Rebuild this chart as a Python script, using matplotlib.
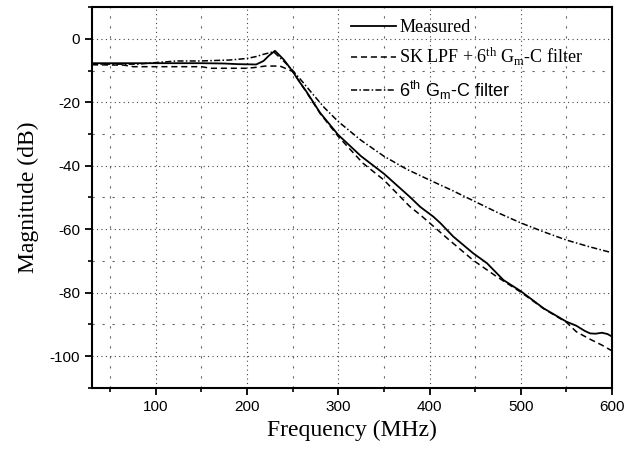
import matplotlib
matplotlib.use("Agg")
import matplotlib.pyplot as plt
from matplotlib.ticker import MultipleLocator

# measured response
f_meas = [30, 60, 100, 150, 175, 190, 210, 218, 224, 230.6, 240, 250, 258, 265, 280,
          300, 325, 350, 378, 390, 404, 412, 426, 448, 463, 481, 500, 525, 550, 561,
          570, 576, 582, 589, 595, 600]
db_meas = [-7.7, -7.7, -7.7, -7.7, -7.8, -8.0, -8.1, -7.0, -5.3, -3.8, -6.5, -10.3, -13.8,
           -16.6, -23.3, -30.3, -37.0, -42.5, -49.7, -53.0, -56.0, -58.1, -62.3, -67.6,
           -70.7, -76.0, -79.5, -84.9, -89.1, -90.4, -92.0, -92.8, -92.9, -92.6, -93.0, -93.8]

# SK LPF + 6th Gm-C filter (simulated)
f_sk = [30, 65, 75, 150, 160, 200, 210, 220, 236, 250, 265, 280, 300, 327, 350, 378.6,
        390, 400, 420, 448, 473.5, 500, 525, 550, 561, 575, 589, 600]
db_sk = [-8.2, -8.3, -8.8, -8.8, -9.3, -9.3, -9.0, -8.6, -8.6, -10.3, -16.8, -23.5, -30.8,
         -39.2, -44.5, -52.9, -55.5, -58.0, -63.0, -69.8, -74.9, -79.8, -85.0, -89.3,
         -92.3, -94.5, -96.5, -98.3]

# 6th Gm-C filter alone (simulated)
f_gm = [30, 80, 100, 123, 148, 181, 200, 210, 218, 229, 240, 250, 260, 272.5, 285, 300,
        325, 350, 375, 400, 425, 450, 475, 500, 525, 550, 575, 600]
db_gm = [-8.0, -8.0, -7.5, -7.0, -7.0, -6.7, -6.2, -5.6, -4.9, -4.1, -7.0, -10.0, -13.3,
         -17.6, -21.8, -26.1, -32.0, -37.0, -41.1, -44.5, -47.8, -51.3, -54.8, -58.0,
         -60.8, -63.4, -65.5, -67.4]

plt.rcParams['axes.unicode_minus'] = False
plt.rcParams['mathtext.default'] = 'regular'

fig = plt.figure(figsize=(6.38, 4.49), dpi=100)
ax = fig.add_axes([0.1442, 0.1359, 0.815, 0.8485])

ax.plot(f_meas, db_meas, color='black', lw=1.3, label='Measured')
ax.plot(f_sk, db_sk, color='black', lw=1.1, linestyle=(0, (4, 2.5)),
        label='SK LPF + 6$^{th}$ G$_{m}$-C filter')
ax.plot(f_gm, db_gm, color='black', lw=1.1, linestyle=(0, (4, 1.5, 1, 1.5)),
        label='6$^{th}$ G$_{m}$-C filter')

ax.set_xlim(30, 600)
ax.set_ylim(-110, 10)
ax.xaxis.set_major_locator(MultipleLocator(100))
ax.xaxis.set_minor_locator(MultipleLocator(50))
ax.yaxis.set_major_locator(MultipleLocator(20))
ax.yaxis.set_minor_locator(MultipleLocator(10))

ax.grid(which='major', color='#444444', lw=0.8, linestyle=(0, (1, 3)))
ax.grid(which='minor', color='#666666', lw=0.8, linestyle=(0, (2, 7)))

for s in ax.spines.values():
    s.set_linewidth(1.5)
ax.tick_params(which='major', direction='out', length=5, width=1.3,
               labelsize=11)
ax.tick_params(which='minor', direction='out', length=3, width=1.2)
for lab in ax.get_xticklabels() + ax.get_yticklabels():
    lab.set_fontfamily('Liberation Sans')

ax.set_xlabel('Frequency (MHz)', fontfamily='Liberation Serif', fontsize=17, labelpad=4)
ax.set_ylabel('Magnitude (dB)', fontfamily='Liberation Serif', fontsize=17, labelpad=8)

leg = ax.legend(loc='upper left', bbox_to_anchor=(0.466, 1.01), frameon=False,
                prop={'family': 'Liberation Serif', 'size': 13},
                handlelength=2.5, handletextpad=0.2, labelspacing=0.55)
leg.get_texts()[2].set_fontfamily('Liberation Sans')

fig.savefig('out.png', dpi=100)
